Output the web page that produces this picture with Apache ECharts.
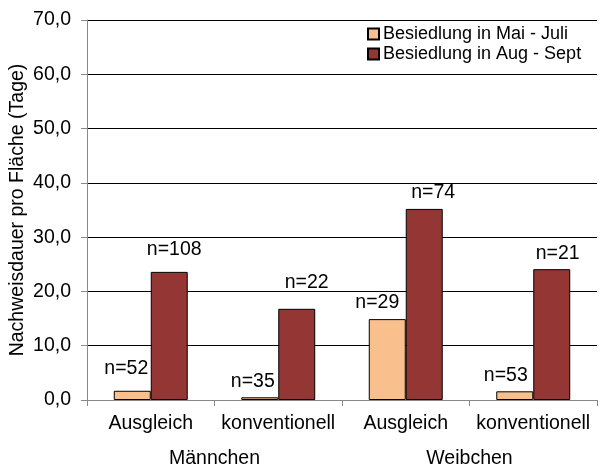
<!DOCTYPE html>
<html><head><meta charset="utf-8">
<script src="https://cdn.jsdelivr.net/npm/echarts@6/dist/echarts.min.js"></script>
<style>html,body{margin:0;padding:0;background:#fff}#c{width:602px;height:467px}</style>
</head><body><div id="c"></div>
<script>
var categories = ['Ausgleich', 'konventionell', 'Ausgleich', 'konventionell'];
var groups = ['Männchen', 'Weibchen'];
var seriesNames = ['Besiedlung in Mai - Juli', 'Besiedlung in Aug - Sept'];
var maiJuli = [1.7, 0.5, 14.9, 1.6];
var augSept = [23.6, 16.8, 35.2, 24.1];
var nMaiJuli = ['n=52', 'n=35', 'n=29', 'n=53'];
var nAugSept = ['n=108', 'n=22', 'n=74', 'n=21'];
var yTicks = [0, 10, 20, 30, 40, 50, 60, 70];

// label layout tweaks (separate from data)
var offMai = [[-6, -4], [-7, 2], [-10, 2], [-9, 2]];
var offAug = [[5, -4], [10, -8], [9, 2], [6, 2]];

var FONT = 'Liberation Sans, Arial, sans-serif';
var FS = 19.5;
function build(vals, labels, offs) {
  return vals.map(function (v, i) {
    return { value: v, label: { formatter: labels[i], offset: offs[i] } };
  });
}
var chart = echarts.init(document.getElementById('c'), null, { renderer: 'canvas' });
chart.setOption({
  animation: false,
  backgroundColor: '#fff',
  textStyle: { fontFamily: FONT },
  grid: { left: 87, right: 5, top: 20, bottom: 67, containLabel: false, outerBoundsMode: 'none' },
  legend: {
    orient: 'vertical', left: 362, top: 20,
    itemWidth: 11, itemHeight: 11, itemGap: 2, icon: 'rect',
    data: seriesNames,
    textStyle: { fontSize: 18, color: '#000', fontFamily: FONT, padding: [0, 0, 0, -1] }
  },
  xAxis: [{
    type: 'category', data: categories, position: 'bottom',
    axisLine: { lineStyle: { color: '#888', width: 1 } },
    axisTick: { show: true, alignWithLabel: false, length: 6, lineStyle: { color: '#888' } },
    axisLabel: { interval: 0, fontSize: FS, color: '#000', margin: 14, fontFamily: FONT }
  }, {
    type: 'category', data: groups, position: 'bottom', offset: 36,
    axisLine: { show: false }, axisTick: { show: false },
    axisLabel: { interval: 0, fontSize: FS, color: '#000', margin: 13, fontFamily: FONT }
  }],
  yAxis: {
    type: 'value', min: yTicks[0], max: yTicks[yTicks.length - 1], interval: 10,
    name: 'Nachweisdauer pro Fläche (Tage)', nameLocation: 'middle', nameGap: 59,
    nameMoveOverlap: false,
    nameTextStyle: { fontSize: FS, color: '#000', fontFamily: FONT },
    axisLine: { show: true, lineStyle: { color: '#888' } },
    axisTick: { show: true, inside: false, length: 6, lineStyle: { color: '#888' } },
    axisLabel: { fontSize: FS, color: '#000', margin: 16, fontFamily: FONT,
      formatter: function (v) { return v.toFixed(1).replace('.', ','); } },
    splitLine: { show: true, lineStyle: { color: '#000', width: 1 } }
  },
  series: [{
    name: seriesNames[0], type: 'bar', xAxisIndex: 0,
    data: build(maiJuli, nMaiJuli, offMai),
    barGap: '0%', barCategoryGap: '42%',
    itemStyle: { color: '#F9C08E', borderColor: '#000', borderWidth: 1 },
    label: { show: true, position: 'top', distance: 8, fontSize: FS, color: '#000', fontFamily: FONT }
  }, {
    name: seriesNames[1], type: 'bar', xAxisIndex: 0,
    data: build(augSept, nAugSept, offAug),
    barGap: '0%', barCategoryGap: '42%',
    itemStyle: { color: '#943634', borderColor: '#000', borderWidth: 1 },
    label: { show: true, position: 'top', distance: 8, fontSize: FS, color: '#000', fontFamily: FONT }
  }]
});
</script></body></html>
